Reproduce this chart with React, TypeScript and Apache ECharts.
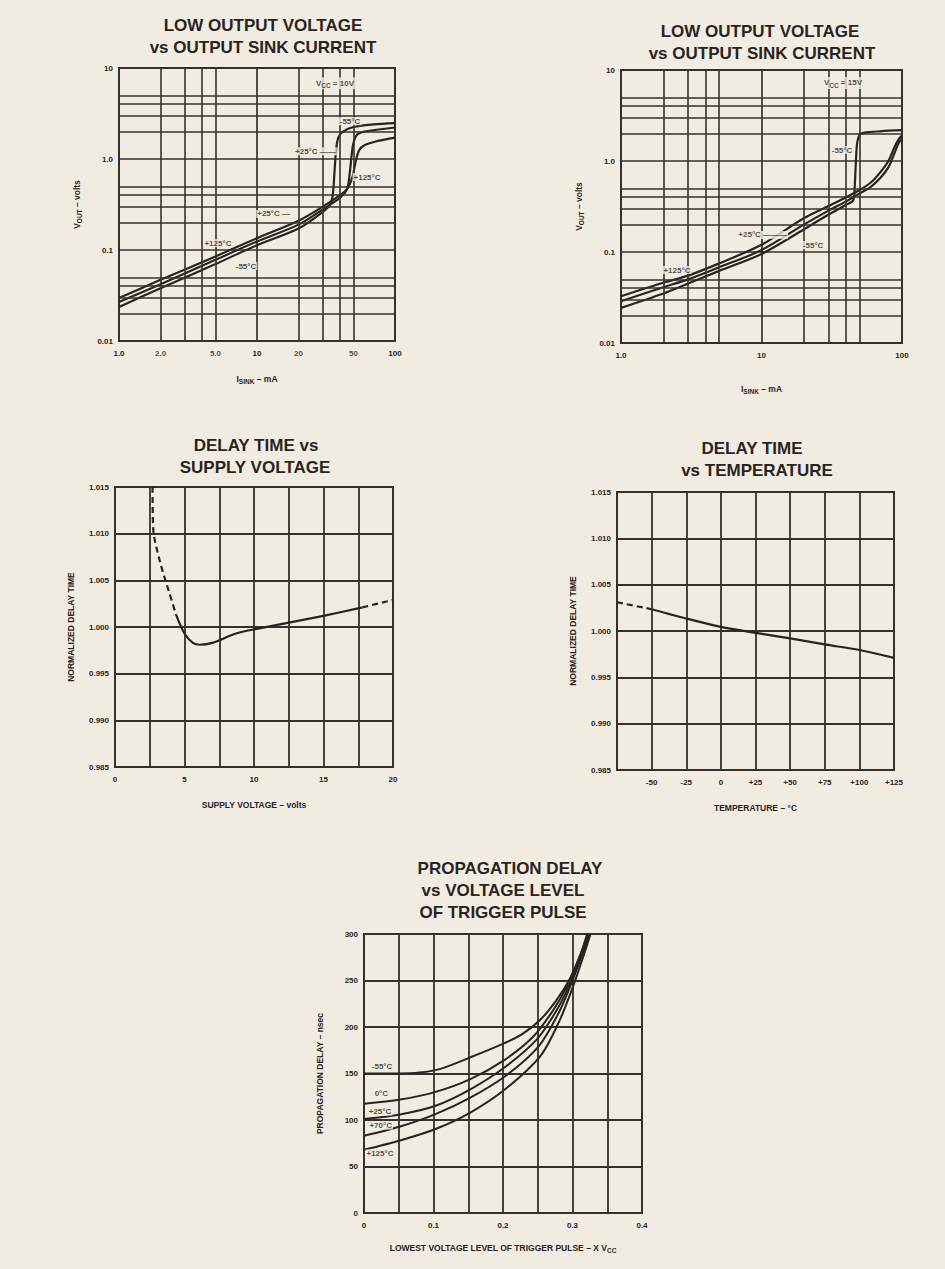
import React, { useEffect, useRef } from "react";
import * as echarts from "echarts";

const INK = "#2a2421";
const GRID = "#37312e";
const BG = "#f1ece1";
const FF = '"Liberation Sans", Arial, Helvetica, sans-serif';

// ---------- Chart 1: low output voltage vs sink current, VCC = 10V ----------
const sink10_m55: number[][] = [[1, 0.0237], [2, 0.038], [5, 0.07], [10, 0.113], [20, 0.172], [30, 0.262], [34, 0.32], [35.5, 0.42], [36.5, 0.75], [37.5, 1.3], [39, 1.75], [42, 2.0], [50, 2.25], [70, 2.4], [100, 2.48]];
const sink10_p25: number[][] = [[1, 0.0268], [2, 0.042], [5, 0.078], [10, 0.124], [20, 0.19], [30, 0.28], [40, 0.375], [45, 0.47], [47, 0.7], [48.5, 1.1], [50, 1.5], [53, 1.85], [60, 2.0], [100, 2.22]];
const sink10_p125: number[][] = [[1, 0.0297], [2, 0.047], [5, 0.085], [10, 0.135], [20, 0.21], [30, 0.3], [40, 0.4], [45, 0.47], [49, 0.62], [52, 0.95], [55, 1.25], [60, 1.42], [75, 1.58], [100, 1.72]];
const sink10Labels: [number, number, string][] = [
  [36.7, 6.8, "{n|V}{s|CC}{n| = 10V}"],
  [47.2, 2.6, "-55°C"],
  [26.5, 1.22, "+25°C ——"],
  [62.7, 0.634, "+125°C"],
  [13.2, 0.249, "+25°C —"],
  [5.21, 0.119, "+125°C"],
  [8.32, 0.0667, "-55°C"],
];
const sink10ExtraTicks: [number, string][] = [[2, "2.0"], [5, "5.0"], [20, "20"], [50, "50"]];

// ---------- Chart 2: low output voltage vs sink current, VCC = 15V ----------
const sink15_p125: number[][] = [[1, 0.0327], [2, 0.046], [3, 0.055], [5, 0.075], [10, 0.12], [20, 0.235], [30, 0.32], [40, 0.4], [50, 0.48], [60, 0.58], [70, 0.75], [80, 1.0], [88, 1.4], [95, 1.75], [100, 1.9]];
const sink15_p25: number[][] = [[1, 0.0288], [2, 0.041], [3, 0.05], [5, 0.068], [10, 0.105], [20, 0.2], [30, 0.285], [40, 0.36], [50, 0.44], [60, 0.52], [70, 0.65], [80, 0.85], [88, 1.2], [95, 1.6], [100, 1.75]];
const sink15_m55: number[][] = [[1, 0.0243], [2, 0.035], [3, 0.045], [5, 0.062], [10, 0.095], [20, 0.177], [30, 0.258], [40, 0.33], [45, 0.37], [46, 0.5], [47, 1.0], [48, 1.6], [50, 1.95], [54, 2.05], [70, 2.12], [100, 2.18]];
const sink15Labels: [number, number, string][] = [
  [38, 7.2, "{n|V}{s|CC}{n| = 15V}"],
  [37.4, 1.32, "-55°C"],
  [10.2, 0.154, "+25°C ———"],
  [23.3, 0.119, "-55°C"],
  [2.5, 0.0634, "+125°C"],
];

const logMinorX = [2, 3, 4, 5, 20, 30, 40, 50];
const logMinorY = [0.02, 0.03, 0.04, 0.05, 0.2, 0.3, 0.4, 0.5, 2, 3, 4, 5];

// ---------- Chart 3: delay time vs supply voltage ----------
const supplyDashedLow: number[][] = [[2.7, 1.015], [2.75, 1.0105], [3.2, 1.0072], [3.9, 1.0037], [4.4, 1.0013]];
const supplySolid: number[][] = [[4.4, 1.0013], [5.0, 0.9993], [5.6, 0.9983], [6.1, 0.9981], [7.0, 0.9983], [8.7, 0.9993], [10.2, 0.9998], [12.6, 1.0005], [15, 1.0012], [17.8, 1.0021]];
const supplyDashedHigh: number[][] = [[17.8, 1.0021], [20, 1.0029]];

// ---------- Chart 4: delay time vs temperature ----------
const tempDashed: number[][] = [[-75, 1.0031], [-50, 1.00235]];
const tempSolid: number[][] = [[-50, 1.00235], [-25, 1.00135], [0, 1.00045], [25, 0.9998], [50, 0.9992], [75, 0.99855], [100, 0.99795], [125, 0.9971]];

// ---------- Chart 5: propagation delay vs trigger level ----------
const prop_m55: number[][] = [[0, 150], [0.05, 150], [0.08, 151], [0.11, 155], [0.155, 168], [0.203, 183], [0.227, 192], [0.254, 208], [0.278, 230], [0.297, 253], [0.311, 277], [0.323, 300]];
const prop_0: number[][] = [[0, 117.5], [0.052, 122], [0.102, 130], [0.153, 144], [0.203, 165], [0.244, 190], [0.273, 219], [0.292, 244], [0.311, 277], [0.321, 300]];
const prop_p25: number[][] = [[0, 101], [0.052, 106], [0.102, 115], [0.153, 133], [0.203, 157], [0.249, 187], [0.278, 219], [0.297, 248], [0.314, 280], [0.323, 300]];
const prop_p70: number[][] = [[0, 83], [0.052, 93], [0.102, 106], [0.153, 124], [0.203, 147], [0.251, 179], [0.28, 215], [0.299, 248], [0.315, 280], [0.325, 300]];
const prop_p125: number[][] = [[0, 68], [0.052, 78], [0.102, 90], [0.153, 108], [0.203, 133], [0.254, 169], [0.282, 208], [0.301, 244], [0.316, 277], [0.326, 300]];
const propLabels: [number, number, string][] = [
  [0.026, 157, "-55°C"],
  [0.025, 128.5, "0°C"],
  [0.023, 109, "+25°C"],
  [0.024, 94, "+70°C"],
  [0.023, 64, "+125°C"],
];

// ---------- Titles ----------
const titles: [number, number, string][] = [
  [263, 25, "LOW OUTPUT VOLTAGE"],
  [263, 47, "vs OUTPUT SINK CURRENT"],
  [760, 31, "LOW OUTPUT VOLTAGE"],
  [762, 53, "vs OUTPUT SINK CURRENT"],
  [256, 445, "DELAY TIME vs"],
  [255, 467, "SUPPLY VOLTAGE"],
  [752, 448, "DELAY TIME"],
  [757, 470, "vs TEMPERATURE"],
  [510, 868, "PROPAGATION DELAY"],
  [503, 890, "vs VOLTAGE LEVEL"],
  [503, 912, "OF TRIGGER PULSE"],
];

const TICK = 8;
const NAME = 8.5;

const RICH = {
  n: { fontSize: NAME, fontWeight: "bold", fontFamily: FF, color: INK, lineHeight: 13, verticalAlign: "middle" },
  s: { fontSize: 6.5, fontWeight: "bold", fontFamily: FF, color: INK, lineHeight: 13, verticalAlign: "bottom" },
};
const RICH_L = {
  n: { fontSize: TICK, fontWeight: "bold", fontFamily: FF, color: INK, lineHeight: 12, verticalAlign: "middle" },
  s: { fontSize: 6.5, fontWeight: "bold", fontFamily: FF, color: INK, lineHeight: 12, verticalAlign: "bottom" },
};

const fmtLog = (v: number) => {
  const r = Math.round(Math.log10(v));
  if (r === 0) return "1.0";
  if (r === -1) return "0.1";
  if (r === -2) return "0.01";
  return String(Math.round(Math.pow(10, r)));
};

const labelStyle = { color: INK, fontSize: TICK, fontWeight: "bold", fontFamily: FF };
const nameStyle = { color: INK, fontSize: NAME, fontWeight: "bold", fontFamily: FF };

function logAxis(gi: number, min: number, max: number, name: string, gap: number, isY: boolean) {
  return {
    type: "log",
    logBase: 10,
    gridIndex: gi,
    min,
    max,
    axisLine: { show: false },
    axisTick: { show: false },
    splitLine: { show: true, lineStyle: { color: GRID, width: 1.7 } },
    axisLabel: { ...labelStyle, formatter: fmtLog, margin: isY ? 6 : 8 },
    name,
    nameLocation: "middle",
    nameGap: gap,
    nameTextStyle: { ...nameStyle, rich: RICH },
  };
}

function valAxis(gi: number, min: number, max: number, interval: number, formatter: any, name: string, gap: number, isY: boolean) {
  return {
    type: "value",
    gridIndex: gi,
    min,
    max,
    interval,
    axisLine: { show: false },
    axisTick: { show: false },
    splitLine: { show: true, lineStyle: { color: GRID, width: 1.8 } },
    axisLabel: { ...labelStyle, formatter, margin: isY ? 6 : 8, showMinLabel: true, showMaxLabel: true },
    name,
    nameLocation: "middle",
    nameGap: gap,
    nameTextStyle: { ...nameStyle, rich: RICH },
  };
}

function curve(gi: number, data: number[][], dashed = false, width = 2.2) {
  return {
    type: "line",
    xAxisIndex: gi,
    yAxisIndex: gi,
    data,
    symbol: "none",
    smooth: 0.3,
    silent: true,
    z: 4,
    lineStyle: { color: INK, width, type: dashed ? [6, 4] : "solid" },
  };
}

function gridHelper(gi: number, anchor: number[]) {
  return {
    type: "line",
    xAxisIndex: gi,
    yAxisIndex: gi,
    data: [anchor],
    symbol: "none",
    silent: true,
    z: 1,
    lineStyle: { opacity: 0 },
    markLine: {
      silent: true,
      symbol: ["none", "none"],
      label: { show: false },
      emphasis: { disabled: true },
      lineStyle: { color: GRID, width: 1.6, type: "solid" },
      data: [...logMinorX.map((v) => ({ xAxis: v })), ...logMinorY.map((v) => ({ yAxis: v }))],
    },
  };
}

function labelSeries(gi: number, items: [number, number, string][]) {
  return {
    type: "scatter",
    xAxisIndex: gi,
    yAxisIndex: gi,
    data: items.map(([x, y, t]) => ({ value: [x, y], name: t })),
    symbolSize: 1,
    itemStyle: { color: "rgba(0,0,0,0)" },
    silent: true,
    clip: false,
    z: 10,
    label: {
      show: true,
      position: "inside",
      formatter: (p: any) => p.name,
      ...labelStyle,
      backgroundColor: BG,
      padding: [0, 1],
      rich: RICH_L,
    },
  };
}

function tickLabelSeries(gi: number, items: [number, string][], yMin: number) {
  return {
    type: "scatter",
    xAxisIndex: gi,
    yAxisIndex: gi,
    data: items.map(([x, t]) => ({ value: [x, yMin], name: t })),
    symbolSize: 1,
    itemStyle: { color: "rgba(0,0,0,0)" },
    silent: true,
    clip: false,
    z: 10,
    label: { show: true, position: "bottom", distance: 8, formatter: (p: any) => p.name, ...labelStyle },
  };
}

const option: any = {
  animation: false,
  backgroundColor: BG,
  grid: [
    { left: 119, top: 68, width: 276, height: 273 },
    { left: 621, top: 70, width: 281, height: 273 },
    { left: 115, top: 487, width: 278, height: 280 },
    { left: 617, top: 492, width: 277, height: 278 },
    { left: 364, top: 934, width: 278, height: 279 },
  ].map((g) => ({ ...g, show: true, borderColor: GRID, borderWidth: 2, backgroundColor: "transparent" })),
  xAxis: [
    logAxis(0, 1, 100, "{n|I}{s|SINK}{n| – mA}", 31, false),
    logAxis(1, 1, 100, "{n|I}{s|SINK}{n| – mA}", 39, false),
    valAxis(2, 0, 20, 2.5, (v: number) => (v % 5 === 0 ? String(v) : ""), "SUPPLY VOLTAGE – volts", 33, false),
    valAxis(3, -75, 125, 25, (v: number) => (v <= -75 ? "" : v > 0 ? "+" + v : String(v)), "TEMPERATURE – °C", 33, false),
    valAxis(4, 0, 0.4, 0.05, (v: number) => {
      const k = Math.round(v * 100);
      if (k % 10 !== 0) return "";
      return k === 0 ? "0" : (k / 100).toFixed(1);
    }, "{n|LOWEST VOLTAGE LEVEL OF TRIGGER PULSE – X V}{s|CC}", 28, false),
  ],
  yAxis: [
    logAxis(0, 0.01, 10, "{n|V}{s|OUT}{n| – volts}", 36, true),
    logAxis(1, 0.01, 10, "{n|V}{s|OUT}{n| – volts}", 36, true),
    valAxis(2, 0.985, 1.015, 0.005, (v: number) => v.toFixed(3), "NORMALIZED DELAY TIME", 40, true),
    valAxis(3, 0.985, 1.015, 0.005, (v: number) => v.toFixed(3), "NORMALIZED DELAY TIME", 40, true),
    valAxis(4, 0, 300, 50, (v: number) => String(v), "PROPAGATION DELAY – nsec", 40, true),
  ],
  graphic: titles.map(([x, y, t]) => ({
    type: "text",
    x,
    y,
    silent: true,
    style: { text: t, fill: INK, font: `bold 17px ${FF}`, align: "center", verticalAlign: "middle" },
  })),
  series: [
    gridHelper(0, [1, 0.01]),
    gridHelper(1, [1, 0.01]),
    curve(0, sink10_m55),
    curve(0, sink10_p25),
    curve(0, sink10_p125),
    labelSeries(0, sink10Labels),
    tickLabelSeries(0, sink10ExtraTicks, 0.01),
    curve(1, sink15_p125),
    curve(1, sink15_p25),
    curve(1, sink15_m55),
    labelSeries(1, sink15Labels),
    curve(2, supplyDashedLow, true),
    curve(2, supplySolid),
    curve(2, supplyDashedHigh, true),
    curve(3, tempDashed, true),
    curve(3, tempSolid),
    curve(4, prop_m55, false, 2),
    curve(4, prop_0, false, 2),
    curve(4, prop_p25, false, 2),
    curve(4, prop_p70, false, 2),
    curve(4, prop_p125, false, 2),
    labelSeries(4, propLabels),
  ],
};

export default function App() {
  const ref = useRef<HTMLDivElement>(null);
  useEffect(() => {
    document.body.style.margin = "0";
    const chart = echarts.init(ref.current as HTMLDivElement, null, { renderer: "svg" });
    chart.setOption(option);
    return () => chart.dispose();
  }, []);
  return <div ref={ref} style={{ width: 945, height: 1269, background: BG }} />;
}
